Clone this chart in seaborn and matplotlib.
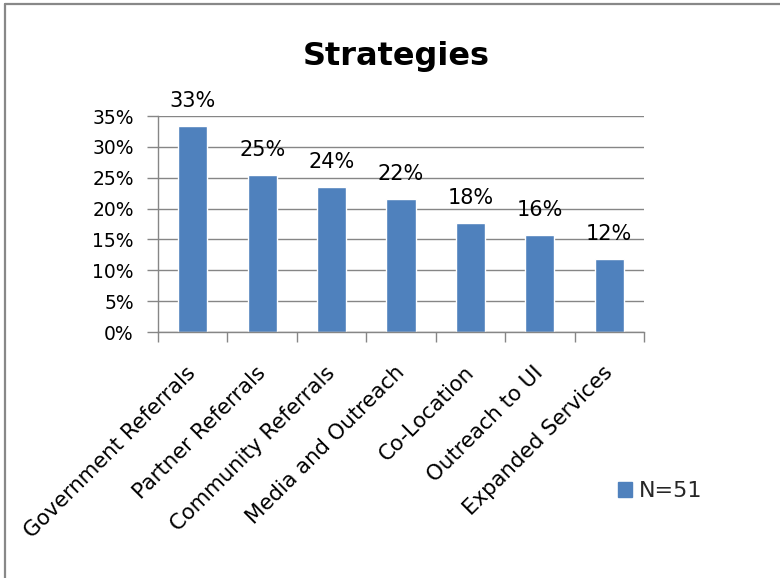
import matplotlib
matplotlib.use("Agg")
import matplotlib.pyplot as plt
from matplotlib.patches import Patch
from matplotlib.lines import Line2D
from matplotlib.transforms import ScaledTranslation
import seaborn as sns
import pandas as pd

# Share of sites using each strategy (N=51), in percent
categories = ["Government Referrals", "Partner Referrals", "Community Referrals",
              "Media and Outreach", "Co-Location", "Outreach to UI", "Expanded Services"]
values = [33.3, 25.4, 23.5, 21.6, 17.6, 15.7, 11.8]
y_ticks = [0, 5, 10, 15, 20, 25, 30, 35]
series_label = "N=51"
title = "Strategies"

BAR = "#4F81BD"
GRID = "#868686"

sns.set_theme(style="white")
plt.rcParams["font.family"] = ["DejaVu Sans"]

df = pd.DataFrame({"strategy": categories, "pct": values})

W, H = 780, 578
fig = plt.figure(figsize=(W / 100, H / 100), dpi=100)
fig.patch.set_facecolor("white")

# outer chart frame (left and top edges)
fig.add_artist(Line2D([4.5 / W, 4.5 / W], [0, 1 - 4 / H], transform=fig.transFigure,
                      color="#888888", lw=1.6))
fig.add_artist(Line2D([4.5 / W, 1.01], [1 - 4 / H, 1 - 4 / H], transform=fig.transFigure,
                      color="#888888", lw=1.6))

ax = fig.add_axes([158 / W, (H - 332) / H, (644 - 158) / W, (332 - 116) / H])
sns.barplot(data=df, x="strategy", y="pct", color=BAR, saturation=1, width=0.42, ax=ax)

ax.set_ylim(0, 35)
ax.set_xlim(-0.5, len(categories) - 0.5)
ax.set_yticks(y_ticks)
ax.set_yticklabels([f"{t}%" for t in y_ticks], fontsize=13.5, color="black")
ax.yaxis.grid(True, color=GRID, lw=1)
ax.set_axisbelow(True)
ax.set_xlabel("")
ax.set_ylabel("")

for side in ["top", "right"]:
    ax.spines[side].set_visible(False)
for side in ["left", "bottom"]:
    ax.spines[side].set_color(GRID)
    ax.spines[side].set_linewidth(1)

ax.tick_params(axis="y", which="major", length=8, width=1, color=GRID, left=True, pad=9.5)
ax.tick_params(axis="x", which="major", length=0, pad=22)
ax.set_xticks([i - 0.5 for i in range(len(categories) + 1)], minor=True)
ax.tick_params(axis="x", which="minor", length=7, width=1, color=GRID, bottom=True)

ax.set_xticks(range(len(categories)))
ax.set_xticklabels(categories, rotation=45, ha="right", va="top",
                   rotation_mode="anchor", fontsize=15.3, color="black")
shift = ScaledTranslation(-7 / 100, 0, fig.dpi_scale_trans)
for lbl in ax.get_xticklabels():
    lbl.set_transform(lbl.get_transform() + shift)

# value labels above each bar
for i, v in enumerate(values):
    ax.annotate(f"{v:.0f}%", xy=(i, v), xytext=(0, 15), textcoords="offset pixels",
                ha="center", va="bottom", fontsize=15, color="black")

fig.text(396 / W, 1 - 57 / H, title, ha="center", va="center",
         fontsize=23, fontweight="bold", color="black")

fig.legend(handles=[Patch(facecolor=BAR, edgecolor=BAR, label=series_label)],
           loc="center left", bbox_to_anchor=(618 / W, 1 - 491 / H), frameon=False,
           fontsize=16, handlelength=0.65, handleheight=0.65, handletextpad=0.3,
           borderpad=0, borderaxespad=0)

fig.savefig("out.png", dpi=100, facecolor="white")
